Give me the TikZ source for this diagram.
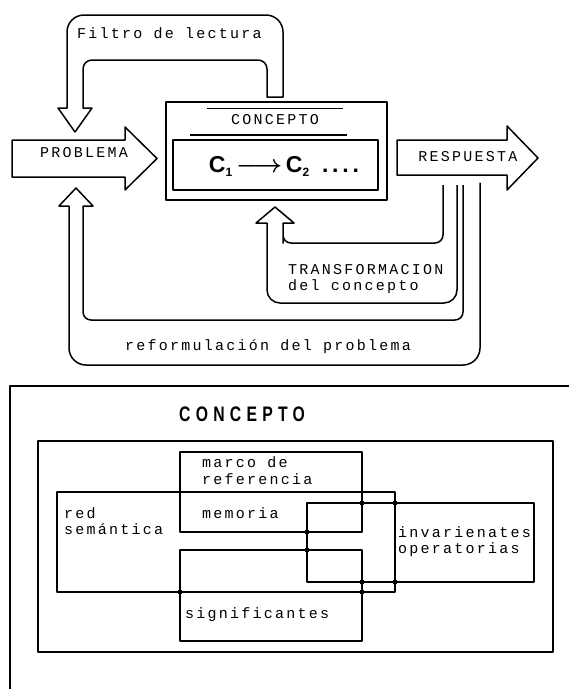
\documentclass[tikz,border=0pt]{standalone}
\usepackage{fontspec}
\setmainfont{Liberation Serif}
\newfontfamily\dotfont[LetterSpace=15]{Liberation Mono}
\newfontfamily\headfont[LetterSpace=25,FakeStretch=0.75]{Liberation Sans}
\newfontfamily\csans{Liberation Sans}
\begin{document}
\begin{tikzpicture}[x=1pt,y=-1pt,line join=round,
  fat/.style={draw,line width=1.5pt},
  box/.style={draw,line width=1.6pt},
  lbl/.style={font={\dotfont\fontsize{15}{16}\selectfont},inner sep=0pt},
  lblw/.style={lbl,anchor=west},
  jdot/.style={circle,fill,inner sep=0pt,minimum size=5pt}]
\useasboundingbox (0,0) rectangle (569,689);

% ---------- Filtro de lectura loop ----------
\draw[fat] (75,132) -- (92,108) -- (83,108) -- (83,90) [rounded corners=9] -- (83,60) -- (267,60) -- (267,80)
  [sharp corners] -- (267,97) -- (283,97) -- (283,80) [rounded corners=17] -- (283,15) -- (67,15) -- (67,90)
  [sharp corners] -- (67,108) -- (58,108) -- cycle;
\node[lblw] (filtro) at (77,33) {Filtro de lectura};

% ---------- Concepto box ----------
\draw[box] (166,102) rectangle (387,200);
\draw[box] (173,140) rectangle (378,190);
\node[lbl] (cpt) at (275,120) {CONCEPTO};
\draw[line width=1pt] (207,108) -- (343,108);
\draw[line width=1.4pt] (190,135) -- (347,135);
\node[inner sep=0pt,font={\csans\bfseries\fontsize{23}{26}\selectfont}] (cc) at (284,166)
  {C\raisebox{-4pt}{\fontsize{12}{13}\selectfont 1}\,{\boldmath$\longrightarrow$}\,C\raisebox{-4pt}{\fontsize{12}{13}\selectfont 2}\ \ .\,.\,.\,.};

% ---------- Problema / Respuesta ----------
\draw[fat] (12,140) -- (125,140) -- (125,127) -- (157,158.5) -- (125,190) -- (125,177) -- (12,177) -- cycle;
\node[lbl] (prob) at (84,153) {PROBLEMA};
\draw[fat] (397,140) -- (507,140) -- (507,126) -- (538,158) -- (507,190) -- (507,175) -- (397,175) -- cycle;
\node[lbl] (resp) at (468,157) {RESPUESTA};

% ---------- Transformacion loop ----------
\draw[fat] (443,185) -- (443,200) [rounded corners=8] -- (443,243) -- (283,243) -- (283,235)
  [sharp corners] -- (283,223) -- (294,223) -- (275,207) -- (256,223) -- (267,223) -- (267,235)
  [rounded corners=13] -- (267,303) -- (457,303) -- (457,200) [sharp corners] -- (457,185);
\node[lblw] (tr1) at (288,270) {TRANSFORMACION};
\node[lblw] (tr2) at (288,287) {del concepto};

% ---------- Reformulacion loop ----------
\draw[fat] (463,185) -- (463,200) [rounded corners=8] -- (463,320) -- (83,320) -- (83,300)
  [sharp corners] -- (83,206) -- (93,206) -- (76,188) -- (59,206) -- (69,206) -- (69,230)
  [rounded corners=17] -- (69,365) -- (480,365) -- (480,200) [sharp corners] -- (480,185);
\node[lblw] (ref) at (125,347) {reformulación del problema};

% ---------- Bottom part ----------
\draw[box] (10,689) -- (10,386) -- (569,386);
\draw[box] (38,441) rectangle (553,652);
\node[inner sep=0pt,font={\headfont\bfseries\fontsize{21}{24}\selectfont}] (title) at (242,414) {CONCEPTO};

\draw[box] (180,452) rectangle (362,532);
\draw[box] (57,492) rectangle (395,592);
\draw[box] (180,550) rectangle (362,641);
\draw[box] (307,503) rectangle (534,582);

\node[lblw] (m1) at (202,462) {marco de};
\node[lblw] (m2) at (202,479) {referencia};
\node[lblw] (mem) at (202,513) {memoria};
\node[lblw] (red) at (64,513) {red};
\node[lblw] (sem) at (64,529) {semántica};
\node[lblw] (sig) at (185,615) {significantes};
\node[lblw] (inv) at (398,532) {invarienates};
\node[lblw] (ope) at (398,550) {operatorias};

\node[jdot] (j1) at (307,532) {};
\node[jdot] (j2) at (307,550) {};
\node[jdot] (j3) at (362,503) {};
\node[jdot] (j4) at (395,503) {};
\node[jdot] (j5) at (362,582) {};
\node[jdot] (j6) at (395,582) {};
\node[jdot] (j7) at (362,592) {};
\node[jdot] (j8) at (180,592) {};
\end{tikzpicture}
\end{document}
